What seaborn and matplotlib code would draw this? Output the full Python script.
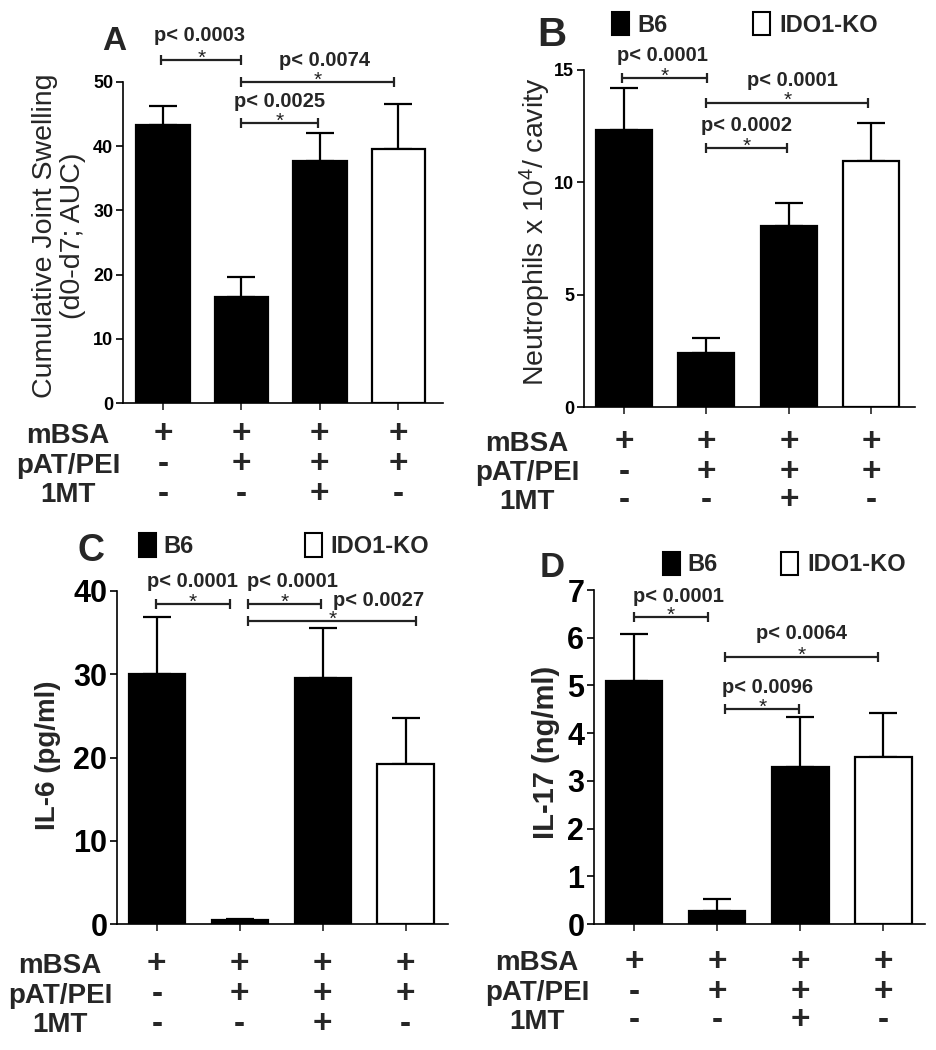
import numpy as np
import pandas as pd
import matplotlib
matplotlib.use("Agg")
import matplotlib.pyplot as plt
import seaborn as sns
from matplotlib.patches import Rectangle
from matplotlib.transforms import blended_transform_factory


# -----------------------------
# DATA
# -----------------------------

groups = ["mBSA", "mBSA+pAT/PEI", "mBSA+pAT/PEI+1MT", "KO mBSA+pAT/PEI"]
strain = ["B6", "B6", "B6", "IDO1-KO"]

row_names = ["mBSA", "pAT/PEI", "1MT"]
mbsa = ["+", "+", "+", "+"]
pat_pei = ["-", "+", "+", "+"]
mt1 = ["-", "-", "+", "-"]

swelling_mean = [43.3, 16.5, 37.7, 39.5]
swelling_sem = [2.9, 3.2, 4.4, 7.1]

neut_mean = [12.35, 2.4, 8.05, 10.95]
neut_sem = [1.85, 0.67, 1.05, 1.67]

il6_mean = [30.0, 0.45, 29.6, 19.2]
il6_sem = [6.9, 0.1, 6.0, 5.5]

il17_mean = [5.10, 0.28, 3.28, 3.50]
il17_sem = [0.98, 0.24, 1.05, 0.93]

# comparisons: (from, to, bracket y, p text, text x, text y)
comp_a = [(-0.02, 1.0, 53.4, "p< 0.0003", 0.47, 57.2),
          (1.0, 2.95, 50.0, "p< 0.0074", 2.06, 53.4),
          (1.0, 1.97, 43.6, "p< 0.0025", 1.49, 47.0)]
comp_b = [(-0.02, 1.01, 14.65, "p< 0.0001", 0.47, 15.66),
          (1.0, 2.96, 13.54, "p< 0.0001", 2.04, 14.55),
          (1.0, 1.98, 11.51, "p< 0.0002", 1.49, 12.55)]
comp_c = [(-0.01, 0.88, 38.4, "p< 0.0001", 0.43, 41.1),
          (1.1, 1.98, 38.4, "p< 0.0001", 1.63, 41.1),
          (1.1, 3.13, 36.4, "p< 0.0027", 2.67, 38.8)]
comp_d = [(0.0, 0.89, 6.43, "p< 0.0001", 0.54, 6.86),
          (1.1, 2.94, 5.59, "p< 0.0064", 2.02, 6.08),
          (1.1, 1.99, 4.50, "p< 0.0096", 1.61, 4.96)]


# -----------------------------
# STYLE
# -----------------------------

sns.set_theme(style="ticks")
plt.rcParams["font.family"] = ["Liberation Sans", "DejaVu Sans"]
plt.rcParams["mathtext.fontset"] = "custom"
plt.rcParams["mathtext.rm"] = "Liberation Sans"
plt.rcParams["mathtext.it"] = "Liberation Sans:italic"
plt.rcParams["mathtext.bf"] = "Liberation Sans:bold"

W, H = 937, 1050
fig = plt.figure(figsize=(W / 100, H / 100), dpi=100)


def rect(x0, y1, x1, y0):
    return [x0 / W, 1 - y0 / H, (x1 - x0) / W, (y0 - y1) / H]


def ftext(x, yc, s, size, weight="bold", ha="center", rot=0):
    # put text so that capital letters are centred on pixel row yc
    if rot:
        fig.text(x / W, 1 - yc / H, s, fontsize=size, fontweight=weight,
                 ha="center", va="center", rotation=90, linespacing=1.1)
    else:
        base = yc + 0.716 * size * 1.389 / 2
        fig.text(x / W, 1 - base / H, s, fontsize=size, fontweight=weight,
                 ha=ha, va="baseline")


def draw_panel(box, means, sems, yticks, ylim, xlim, tsize, comps, rows_y, row_x):
    ax = fig.add_axes(rect(*box))
    df = pd.DataFrame({"group": groups, "strain": strain, "value": means})
    sns.barplot(data=df, x="group", y="value", hue="strain", order=groups,
                hue_order=["B6", "IDO1-KO"],
                palette={"B6": "black", "IDO1-KO": "white"},
                dodge=False, width=0.68, edgecolor="black", linewidth=1.6,
                errorbar=None, legend=False, ax=ax)
    ax.errorbar(np.arange(4), means, yerr=[np.zeros(4), sems], fmt="none",
                ecolor="black", elinewidth=1.6, capsize=10, capthick=1.6, zorder=0.5)
    ax.set_xlim(*xlim)
    ax.set_ylim(*ylim)
    ax.set_yticks(yticks)
    ax.set_yticklabels([str(t) for t in yticks], fontweight="bold")
    ax.set_xticks(range(4))
    ax.set_xticklabels([])
    ax.set_xlabel("")
    ax.set_ylabel("")
    ax.tick_params(axis="y", direction="out", length=5, width=1.2,
                   labelsize=tsize, pad=2, colors="black")
    ax.tick_params(axis="x", direction="out", length=5, width=1.2)
    for sp in ["left", "bottom"]:
        ax.spines[sp].set_linewidth(1.2)
        ax.spines[sp].set_color("black")
    sns.despine(ax=ax)

    for x1, x2, y, p, tx, ty in comps:
        ax.plot([x1, x2], [y, y], color="#222222", lw=1.6, marker="|",
                markersize=7, markeredgewidth=1.6, clip_on=False)
        ax.annotate("*", xy=((x1 + x2) / 2, y), xytext=(0, -2.5),
                    textcoords="offset points", ha="center", va="baseline",
                    fontsize=15, color="#222222", annotation_clip=False)
        ax.text(tx, ty, p, ha="center", va="center", fontsize=14.5,
                fontweight="bold", clip_on=False)

    # treatment table under the bars
    tr = blended_transform_factory(ax.transData, fig.transFigure)
    for name, vals, yc in zip(row_names, [mbsa, pat_pei, mt1], rows_y):
        ftext(row_x, yc, name, 20)
        base = yc + 10.5
        for i, v in enumerate(vals):
            ax.text(i, 1 - base / H, v, transform=tr, ha="center",
                    va="baseline", fontsize=24, fontweight="bold")
    return ax


def legend(bx, wx, yt, yb, b_txt_x, w_txt_x, yc):
    for x, fc in [(bx, "black"), (wx, "white")]:
        fig.add_artist(Rectangle((x / W, 1 - yb / H), 17 / W, (yb - yt) / H,
                                 transform=fig.transFigure, facecolor=fc,
                                 edgecolor="black", lw=1.5))
    ftext(b_txt_x, yc, "B6", 17, ha="left")
    ftext(w_txt_x, yc, "IDO1-KO", 17, ha="left")


# -----------------------------
# PANELS
# -----------------------------

draw_panel((123, 82, 443, 403), swelling_mean, swelling_sem, [0, 10, 20, 30, 40, 50],
           (0, 50), (-0.51, 3.57), 13, comp_a, [433, 463, 492], 68)
ftext(114, 38, "A", 24)
ftext(59, 236, "Cumulative Joint Swelling\n(d0-d7; AUC)", 20.5, weight="normal", rot=90)

draw_panel((584, 70, 915, 407), neut_mean, neut_sem, [0, 5, 10, 15],
           (0, 15), (-0.486, 3.53), 13, comp_b, [441, 470, 499], 527)
ftext(552, 32, "B", 29)
ftext(535, 232, "Neutrophils x 10$^{4}$/ cavity", 20.5, weight="normal", rot=90)
legend(612, 753, 12, 35, 637, 779, 24)

draw_panel((117, 591, 448, 924), il6_mean, il6_sem, [0, 10, 20, 30, 40],
           (0, 40), (-0.48, 3.51), 22, comp_c, [963, 993, 1022], 60)
ftext(91, 548, "C", 27)
ftext(48, 755, "IL-6 (pg/ml)", 20, rot=90)
legend(139, 305, 533, 557, 163, 330, 545)

draw_panel((594, 590, 925, 924), il17_mean, il17_sem, [0, 1, 2, 3, 4, 5, 6, 7],
           (0, 7), (-0.48, 3.5), 22, comp_d, [960, 990, 1019], 537)
ftext(552, 565, "D", 25)
ftext(546, 752, "IL-17 (ng/ml)", 21, rot=90)
legend(663, 781, 552, 575, 687, 807, 563)

plt.savefig("out.png", dpi=100)
